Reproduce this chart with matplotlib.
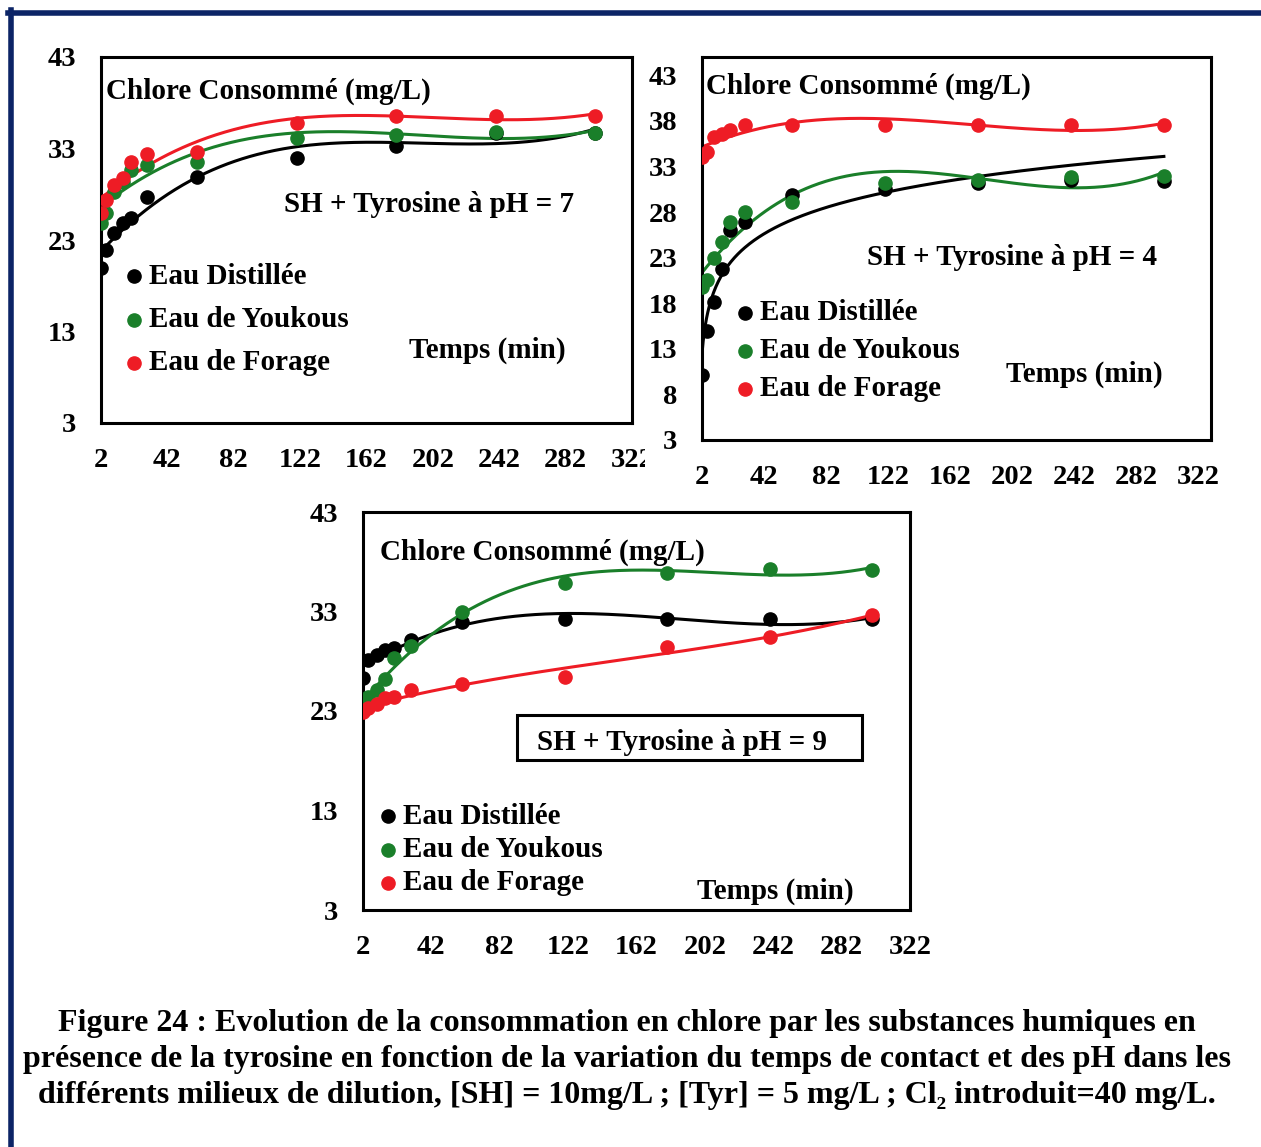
import numpy as np
import matplotlib
matplotlib.use('Agg')
import matplotlib.pyplot as plt
from matplotlib.patches import Rectangle
from matplotlib.lines import Line2D

plt.rcParams['font.family'] = ['Liberation Serif', 'DejaVu Serif']
plt.rcParams['font.weight'] = 'bold'

W, H = 1261, 1147

# contact times (min)
temps = [2, 5, 10, 15, 20, 30, 60, 120, 180, 240, 300]

# pH = 7
ph7_distillee = [19.9, 21.9, 23.8, 24.9, 25.4, 27.7, 29.9, 32.0, 33.3, 34.7, 34.7]
ph7_youkous = [24.9, 26.0, 28.3, 29.3, 30.6, 31.2, 31.5, 34.1, 34.5, 34.8, 34.7]
ph7_forage = [26.0, 27.4, 29.0, 29.8, 31.5, 32.4, 32.6, 35.8, 36.6, 36.6, 36.6]

# pH = 4
ph4_distillee = [10.1, 15.0, 18.1, 21.8, 26.0, 26.9, 29.9, 30.5, 31.2, 31.5, 31.4]
ph4_youkous = [19.8, 20.5, 23.0, 24.7, 26.9, 28.0, 29.1, 31.2, 31.5, 31.8, 31.9]
ph4_forage = [34.0, 34.6, 36.2, 36.6, 37.0, 37.5, 37.5, 37.5, 37.5, 37.5, 37.5]

# pH = 9
ph9_distillee = [26.3, 28.1, 28.6, 29.1, 29.3, 30.1, 31.9, 32.2, 32.2, 32.2, 32.2]
ph9_youkous = [23.6, 24.4, 25.1, 26.2, 28.3, 29.5, 33.0, 35.9, 36.9, 37.3, 37.2]
ph9_forage = [22.9, 23.3, 23.7, 24.3, 24.4, 25.1, 25.7, 26.4, 29.4, 30.4, 32.6]

series_names = ['Eau Distillée', 'Eau de Youkous', 'Eau de Forage']
colors = ['black', '#1a7f2a', '#ee1c25']
x_ticks = [2, 42, 82, 122, 162, 202, 242, 282, 322]

fig = plt.figure(figsize=(W / 100, H / 100), dpi=100)


def px_axes(left, top, right, bottom):
    return fig.add_axes([left / W, 1 - bottom / H, (right - left) / W, (bottom - top) / H])


def trend(ax, y, color, kind='poly', deg=3):
    t = np.array(temps, dtype=float)
    tt = np.linspace(t[0], t[-1], 400)
    if kind == 'log':
        b, a = np.polyfit(np.log(t), y, 1)
        yy = a + b * np.log(tt)
    else:
        yy = np.polynomial.Polynomial.fit(t, y, deg)(tt)
    ax.plot(tt, yy, color=color, lw=2.2, zorder=2)


def panel(box, xlim, ylim, yticks, data, kinds, title_pos, ph_pos, ph_text, temps_pos, legend_pos, legend_step):
    ax = px_axes(*box)
    for y, c, (kind, deg) in zip(data, colors, kinds):
        trend(ax, y, c, kind, deg)
        ax.plot(temps, y, 'o', color=c, ms=9.5, zorder=3)
    ax.set_xlim(*xlim)
    ax.set_ylim(*ylim)
    ax.set_xticks(x_ticks)
    ax.set_yticks(yticks)
    ax.tick_params(length=0, labelsize=20.5)
    ax.tick_params(axis='y', pad=18)
    ax.tick_params(axis='x', pad=18)
    for s in ax.spines.values():
        s.set_linewidth(2.2)
    tr = ax.transAxes

    def axfrac(px, py):
        return ((px - box[0]) / (box[2] - box[0]), 1 - (py - box[1]) / (box[3] - box[1]))

    ax.text(*axfrac(*title_pos), 'Chlore Consommé (mg/L)', transform=tr, fontsize=21,
            ha='left', va='center')
    ax.text(*axfrac(*ph_pos), ph_text, transform=tr, fontsize=21, ha='left', va='center')
    ax.text(*axfrac(*temps_pos), 'Temps (min)', transform=tr, fontsize=21, ha='left', va='center')
    mx, my = legend_pos
    for i, (name, c) in enumerate(zip(series_names, colors)):
        fx, fy = axfrac(mx, my + i * legend_step)
        ax.plot([fx], [fy], 'o', color=c, ms=9.5, transform=tr, clip_on=False)
        tx, _ = axfrac(mx + 15, my)
        ax.text(tx, fy, name, transform=tr, fontsize=21, ha='left', va='center')
    return ax


ax1 = panel((101, 57, 632, 423), (2, 322), (3, 43), [3, 13, 23, 33, 43],
            [ph7_distillee, ph7_youkous, ph7_forage],
            [('poly', 3), ('poly', 3), ('poly', 3)],
            (106, 91), (284, 205), 'SH + Tyrosine à pH = 7', (409, 350), (134, 276), 43.5)
lbl = ax1.get_xticklabels()[-1]
lbl.set_clip_path(Rectangle((0, 0), 645 / W, 1, transform=fig.transFigure))

ax2 = panel((702, 57, 1211, 440), (2, 330.4), (3, 45.0), [3, 8, 13, 18, 23, 28, 33, 38, 43],
            [ph4_distillee, ph4_youkous, ph4_forage],
            [('log', 1), ('poly', 3), ('poly', 3)],
            (706, 86), (867, 258), 'SH + Tyrosine à pH = 4', (1006, 374), (745, 313), 38)

ax3 = panel((363, 512, 910, 910), (2, 322), (3, 43), [3, 13, 23, 33, 43],
            [ph9_distillee, ph9_youkous, ph9_forage],
            [('poly', 3), ('poly', 3), ('poly', 3)],
            (380, 552), (537, 742), 'SH + Tyrosine à pH = 9', (697, 891), (388, 816), 33.5)
ax3.add_patch(Rectangle(((517 - 363) / 547, 1 - (760 - 512) / 398), (862 - 517) / 547, 45 / 398,
                        transform=ax3.transAxes, fill=False, lw=2.2, edgecolor='black'))

# navy frame
navy = '#0c2466'
fig.add_artist(Line2D([8 / W, 1], [1 - 12.5 / H, 1 - 12.5 / H], color=navy, lw=4, transform=fig.transFigure))
fig.add_artist(Line2D([10.5 / W, 10.5 / W], [0, 1 - 10 / H], color=navy, lw=4, transform=fig.transFigure))

caption = [
    'Figure 24 : Evolution de la consommation en chlore par les substances humiques en',
    'présence de la tyrosine en fonction de la variation du temps de contact et des pH dans les',
    'différents milieux de dilution, [SH] = 10mg/L ; [Tyr] = 5 mg/L ; Cl₂ introduit=40 mg/L.',
]
for line, yp in zip(caption, [1023, 1060, 1096]):
    fig.text(627 / W, 1 - yp / H, line, ha='center', va='center', fontsize=23)

fig.savefig('out.png', dpi=100)
